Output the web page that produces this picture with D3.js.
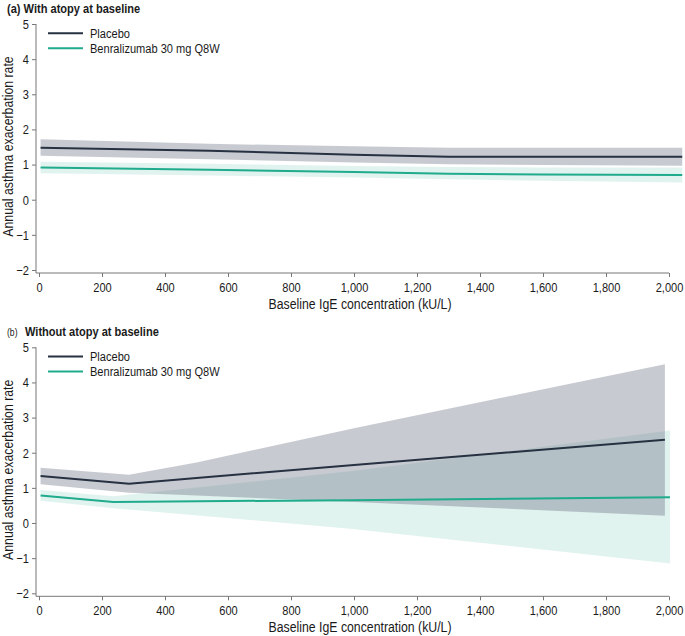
<!DOCTYPE html>
<meta charset="utf-8">
<script src="https://d3js.org/d3.v7.min.js"></script>
<style>
  body { margin: 0; background: #fff; }
  text { font-family: "Liberation Sans", Arial, sans-serif; fill: #1a1a1a; }
</style>
<div id="chart"></div>
<script>
// ---- data ----
var xTicks = [0, 200, 400, 600, 800, 1000, 1200, 1400, 1600, 1800, 2000];
var yTicks = [-2, -1, 0, 1, 2, 3, 4, 5];
var seriesNames = ["Placebo", "Benralizumab 30 mg Q8W"];

// (a) with atopy
var atopyX       = [5, 540, 1000, 1300, 1600, 2042];
var atopyPlacebo = [1.48, 1.39, 1.28, 1.22, 1.22, 1.22];
var atopyPlaLo   = [1.25, 1.15, 1.06, 1.01, 0.99, 0.97];
var atopyPlaHi   = [1.72, 1.59, 1.52, 1.48, 1.48, 1.48];
var atopyBenra   = [0.92, 0.85, 0.79, 0.74, 0.72, 0.70];
var atopyBenLo   = [0.75, 0.69, 0.63, 0.58, 0.54, 0.49];
var atopyBenHi   = [1.08, 1.02, 0.96, 0.93, 0.92, 0.92];

// (b) without atopy
var noAtopyPlaX    = [5, 286, 500, 1000, 1987];
var noAtopyPlacebo = [1.34, 1.12, 1.28, 1.65, 2.37];
var noAtopyPlaLo   = [1.10, 0.86, 0.78, 0.60, 0.21];
var noAtopyPlaHi   = [1.57, 1.37, 1.72, 2.70, 4.52];
var noAtopyBenX    = [5, 236, 987, 2003];
var noAtopyBenra   = [0.78, 0.60, 0.65, 0.73];
var noAtopyBenLo   = [0.63, 0.42, -0.16, -1.15];
var noAtopyBenHi   = [0.94, 0.76, 1.47, 2.63];

var colPla = "#263142", colBen = "#1fab8c";
var narrow = 0.82; // figure uses a condensed face

var svg = d3.select("#chart").append("svg")
    .attr("width", 685)
    .attr("height", 636);

var x = d3.scaleLinear().domain([0, 2000]).range([39, 669]);

function label(g, px, py, size, str, extra) {
  var t = g.append("text")
    .attr("transform", "translate(" + px + "," + py + ")" + (extra || "") + " scale(" + narrow + ",1)")
    .style("font-size", size + "px")
    .text(str);
  return t;
}

function drawPanel(dy, tag, title, tagSmall, pla, ben) {
  var g = svg.append("g").attr("transform", "translate(0," + dy + ")");
  var y = d3.scaleLinear().domain([-2, 5]).range([270, 24]);

  function band(s, col, op) {
    var rows = s.x.map(function(v, i) { return {x: v, lo: s.lo[i], hi: s.hi[i]}; });
    g.append("path").datum(rows)
      .attr("d", d3.area().x(function(d){ return x(d.x); })
        .y0(function(d){ return y(d.lo); }).y1(function(d){ return y(d.hi); }))
      .attr("fill", col).attr("fill-opacity", op);
  }
  function line(s, col) {
    var rows = s.x.map(function(v, i) { return {x: v, m: s.m[i]}; });
    g.append("path").datum(rows)
      .attr("d", d3.line().x(function(d){ return x(d.x); }).y(function(d){ return y(d.m); }))
      .attr("fill", "none").attr("stroke", col).attr("stroke-width", 2);
  }
  band(ben, "#2aa98b", 0.14);
  band(pla, "#4a4f68", 0.3);
  line(ben, colBen);
  line(pla, colPla);

  // axes
  var xa = g.append("g").attr("transform", "translate(0,273)")
    .call(d3.axisBottom(x).tickValues(xTicks).tickFormat(d3.format(",")).tickSize(4).tickSizeOuter(0));
  var ya = g.append("g").attr("transform", "translate(36,0)")
    .call(d3.axisLeft(y).tickValues(yTicks).tickFormat(d3.format("d")).tickSize(4).tickSizeOuter(0));
  [xa, ya].forEach(function(a) {
    a.select(".domain").remove();
    a.selectAll("line").attr("stroke", "#777");
    a.selectAll("text").style("font-size", "13.5px").attr("fill", "#1a1a1a")
      .attr("transform", "scale(" + narrow + ",1)");
  });
  xa.selectAll("text").attr("y", 9.5);
  ya.selectAll("text").attr("x", -7 / narrow);
  g.append("line").attr("x1", 36).attr("x2", 669).attr("y1", 273).attr("y2", 273).attr("stroke", "#777");
  g.append("line").attr("x1", 36).attr("x2", 36).attr("y1", 24).attr("y2", 273).attr("stroke", "#777");

  // axis titles
  label(g, 360, 309, 15, "Baseline IgE concentration (kU/L)").attr("text-anchor", "middle");
  label(g, 13.3, 146.5, 15, "Annual asthma exacerbation rate", " rotate(-90)").attr("text-anchor", "middle");

  // panel title
  if (tagSmall) {
    label(g, 7, 13, 10.5, tag);
    label(g, 25, 13, 13.5, title).style("font-weight", "bold");
  } else {
    label(g, 7, 13, 13.5, tag + " " + title).style("font-weight", "bold");
  }

  // legend
  var cols = [colPla, colBen];
  seriesNames.forEach(function(n, i) {
    g.append("line").attr("x1", 48).attr("x2", 83)
      .attr("y1", 33.3 + i * 15).attr("y2", 33.3 + i * 15)
      .attr("stroke", cols[i]).attr("stroke-width", 2);
    label(g, 90, 37.5 + i * 15, 13.5, n);
  });
}

drawPanel(0, "(a)", "With atopy at baseline", false,
  {x: atopyX, m: atopyPlacebo, lo: atopyPlaLo, hi: atopyPlaHi},
  {x: atopyX, m: atopyBenra, lo: atopyBenLo, hi: atopyBenHi});

drawPanel(323.3, "(b)", "Without atopy at baseline", true,
  {x: noAtopyPlaX, m: noAtopyPlacebo, lo: noAtopyPlaLo, hi: noAtopyPlaHi},
  {x: noAtopyBenX, m: noAtopyBenra, lo: noAtopyBenLo, hi: noAtopyBenHi});
</script>
